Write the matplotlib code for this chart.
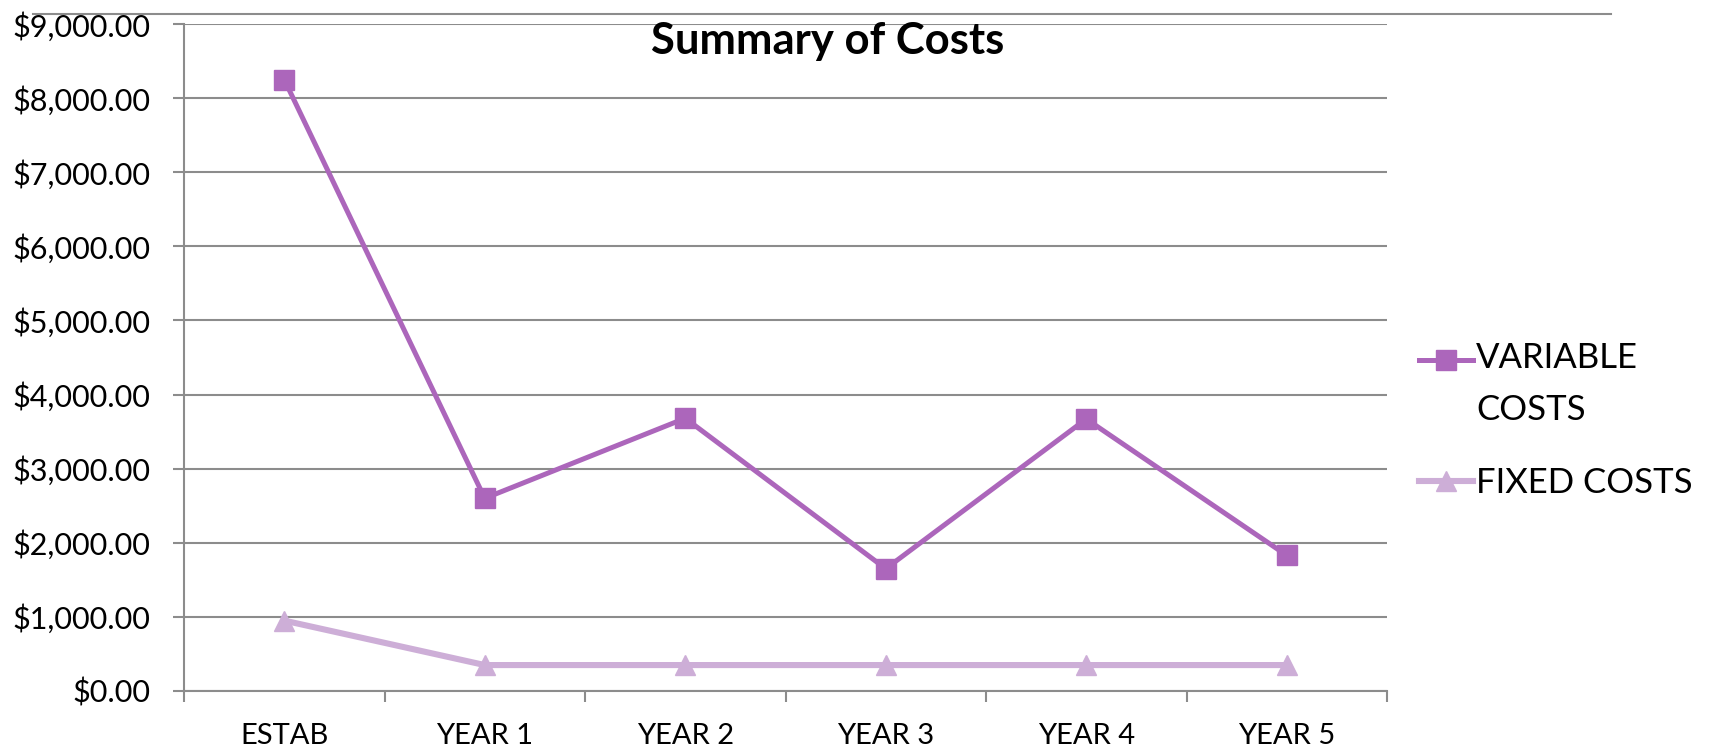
import matplotlib
matplotlib.use("Agg")
import matplotlib.pyplot as plt
from matplotlib.lines import Line2D
from matplotlib.ticker import FuncFormatter
from matplotlib.legend_handler import HandlerLine2D

plt.rcParams['font.family'] = ['Lato', 'DejaVu Sans']

categories = ["ESTAB", "YEAR 1", "YEAR 2", "YEAR 3", "YEAR 4", "YEAR 5"]
variable_costs = [8250, 2600, 3680, 1650, 3670, 1830]
fixed_costs = [950, 350, 350, 350, 350, 350]
y_ticks = [0, 1000, 2000, 3000, 4000, 5000, 6000, 7000, 8000, 9000]

grid_col = "#8c8c8c"
var_col = "#ac66bb"
fix_col = "#cdaed7"


class RaisedHandler(HandlerLine2D):
    # puts the legend handle next to the first line of a two-line label
    def __init__(self, shift, **kw):
        super().__init__(**kw)
        self.shift = shift

    def create_artists(self, legend, orig_handle, xdescent, ydescent,
                       width, height, fontsize, trans):
        arts = super().create_artists(legend, orig_handle, xdescent, ydescent,
                                      width, height, fontsize, trans)
        for a in arts:
            a.set_ydata([y + self.shift for y in a.get_ydata()])
        return arts


fig = plt.figure(figsize=(17.16, 7.52), dpi=100)
ax = fig.add_axes([184 / 1716, 1 - 691 / 752, (1387 - 184) / 1716, (691 - 24) / 752])

# chart border line at the top
fig.add_artist(Line2D([33 / 1716, 1611 / 1716], [1 - 14 / 752, 1 - 14 / 752],
                      color=grid_col, lw=1.5, zorder=0))

x = list(range(len(categories)))
l1, = ax.plot(x, variable_costs, color=var_col, lw=3.6, marker="s", markersize=14,
              label="VARIABLE\nCOSTS", zorder=4)
l2, = ax.plot(x, fixed_costs, color=fix_col, lw=4.4, marker="^", markersize=15,
              label="FIXED COSTS", zorder=3)

ax.set_xlim(-0.5, len(categories) - 0.5)
ax.set_ylim(0, 9000)
ax.set_yticks(y_ticks)
ax.yaxis.set_major_formatter(FuncFormatter(lambda v, p: "${:,.2f}".format(v)))
ax.set_xticks(x)
ax.set_xticklabels(categories)
ax.set_xticks([i - 0.5 for i in range(len(categories) + 1)], minor=True)

ax.grid(axis="y", color=grid_col, lw=1.5, zorder=0)
ax.set_axisbelow(True)
for s in ["top", "right"]:
    ax.spines[s].set_visible(False)
for s in ["left", "bottom"]:
    ax.spines[s].set_color(grid_col)
    ax.spines[s].set_linewidth(1.5)

ax.tick_params(axis="y", length=8, width=1.5, color=grid_col, pad=16, labelsize=22)
ax.tick_params(axis="x", which="major", length=0, pad=23, labelsize=21)
ax.tick_params(axis="x", which="minor", length=8, width=1.5, color=grid_col)

fig.text(828 / 1716, 1 - 41 / 752, "Summary of Costs", ha="center", va="center",
         fontsize=31.4, fontweight="bold")

leg = ax.legend(handles=[l1, l2], loc="upper left",
                bbox_to_anchor=(1419 / 1716, 1 - 342 / 752),
                bbox_transform=fig.transFigure, frameon=False, fontsize=25,
                handlelength=1.55, handletextpad=0.1, labelspacing=1.2,
                borderaxespad=0, borderpad=0,
                handler_map={l1: RaisedHandler(18)})
leg.get_texts()[0].set_linespacing(1.75)

fig.savefig("out.png", dpi=100)
